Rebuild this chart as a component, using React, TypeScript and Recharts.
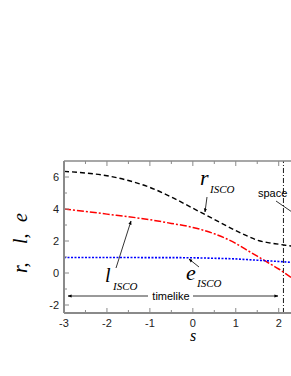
import React from 'react';
import { LineChart, Line, XAxis, YAxis, ReferenceLine, Customized } from 'recharts';

const sValues = [-3, -2.5, -2, -1.5, -1, -0.5, 0, 0.5, 1, 1.25, 1.5, 1.75, 2, 2.3];
const rIsco = [6.35, 6.25, 6.08, 5.78, 5.35, 4.75, 4.05, 3.35, 2.65, 2.33, 2.05, 1.9, 1.8, 1.68];
const lIsco = [4.0, 3.85, 3.68, 3.52, 3.33, 3.1, 2.85, 2.45, 1.85, 1.45, 1.05, 0.65, 0.25, -0.3];
const eIsco = [0.97, 0.97, 0.97, 0.97, 0.96, 0.96, 0.95, 0.92, 0.88, 0.84, 0.8, 0.76, 0.72, 0.66];
const xTicks = [-3, -2.5, -2, -1.5, -1, -0.5, 0, 0.5, 1, 1.5, 2];
const yTicks = [-2, -1, 0, 1, 2, 3, 4, 5, 6];
const xLabelTicks = [-3, -2, -1, 0, 1, 2];
const yLabelTicks = [-2, 0, 2, 4, 6];
const horizonS = 2.11;

const data = sValues.map((s, i) => ({ s, r: rIsco[i], l: lIsco[i], e: eIsco[i] }));

const AXIS = '#8a8a8a';
const SANS = '"Liberation Sans", Arial, sans-serif';
const SERIF = '"Liberation Serif", "Times New Roman", serif';

const XTick = (props: any) => {
  const { x, y, payload } = props;
  const v = payload.value;
  const major = xLabelTicks.includes(v);
  return (
    <g>
      <line x1={x} y1={y} x2={x} y2={y - (major ? 5 : 3)} stroke={AXIS} strokeWidth={1} />
      {major && (
        <text x={x} y={y + 13.5} textAnchor="middle" fontFamily={SANS} fontSize={11} fill="#222">
          {v}
        </text>
      )}
    </g>
  );
};

const TopTick = (props: any) => {
  const { x, y, payload } = props;
  const major = xLabelTicks.includes(payload.value);
  return <line x1={x} y1={y} x2={x} y2={y + (major ? 5 : 3)} stroke={AXIS} strokeWidth={1} />;
};

const YTick = (props: any) => {
  const { x, y, payload } = props;
  const v = payload.value;
  const major = yLabelTicks.includes(v);
  return (
    <g>
      <line x1={x} y1={y} x2={x + (major ? 5 : 3)} y2={y} stroke={AXIS} strokeWidth={1} />
      {major && (
        <text x={x - 5} y={y + 4} textAnchor="end" fontFamily={SANS} fontSize={11} fill="#222">
          {v}
        </text>
      )}
    </g>
  );
};

const Annotations = () => (
  <g>
    <defs>
      <marker id="ah" viewBox="0 0 10 10" refX="9" refY="5" markerWidth="5" markerHeight="5" orient="auto-start-reverse">
        <path d="M0,1 L10,5 L0,9 z" fill="#000" />
      </marker>
    </defs>
    {/* y axis title */}
    <text transform="translate(27,273) rotate(-90)" fontFamily={SERIF} fontStyle="italic" fontSize={20} fill="#000">r,</text>
    <text transform="translate(27,244) rotate(-90)" fontFamily={SERIF} fontStyle="italic" fontSize={20} fill="#000">l,</text>
    <text transform="translate(27,222) rotate(-90)" fontFamily={SERIF} fontStyle="italic" fontSize={20} fill="#000">e</text>
    {/* x axis title */}
    <text x={193} y={341} textAnchor="middle" fontFamily={SERIF} fontStyle="italic" fontSize={16} fill="#000">s</text>

    {/* r_ISCO */}
    <text x={200} y={185} fontFamily={SERIF} fontStyle="italic" fontSize={22} fill="#000">r</text>
    <text x={210} y={193} fontFamily={SERIF} fontStyle="italic" fontSize={11} fill="#000">ISCO</text>
    <line x1={207} y1={197} x2={205} y2={212} stroke="#000" strokeWidth={0.8} markerEnd="url(#ah)" />

    {/* l_ISCO */}
    <text x={105} y={282} fontFamily={SERIF} fontStyle="italic" fontSize={20} fill="#000">l</text>
    <text x={113} y={290} fontFamily={SERIF} fontStyle="italic" fontSize={11} fill="#000">ISCO</text>
    <line x1={116} y1={268} x2={131} y2={221} stroke="#000" strokeWidth={0.8} markerEnd="url(#ah)" />

    {/* e_ISCO */}
    <text x={186} y={280} fontFamily={SERIF} fontStyle="italic" fontSize={22} fill="#000">e</text>
    <text x={197} y={287} fontFamily={SERIF} fontStyle="italic" fontSize={11} fill="#000">ISCO</text>
    <line x1={199} y1={267} x2={189} y2={259} stroke="#000" strokeWidth={0.8} markerEnd="url(#ah)" />

    {/* spacelike (clipped by the frame, as in the reference) */}
    <text x={258} y={197} fontFamily={SANS} fontSize={11} fill="#000">space</text>
    <line x1={276} y1={201} x2={292} y2={212} stroke="#000" strokeWidth={0.8} />

    {/* timelike */}
    <line x1={148} y1={296} x2={68} y2={296} stroke="#000" strokeWidth={0.8} markerEnd="url(#ah)" />
    <text x={171} y={300} textAnchor="middle" fontFamily={SANS} fontSize={11} fill="#000">timelike</text>
    <line x1={193} y1={296} x2={278} y2={296} stroke="#000" strokeWidth={0.8} markerEnd="url(#ah)" />
  </g>
);

export default function App() {
  return (
    <div style={{ position: 'absolute', left: 0, top: 0, width: 291, height: 376, overflow: 'hidden', background: '#fff' }}>
      <LineChart
        width={300}
        height={376}
        data={data}
        margin={{ top: 160, right: 8.4, bottom: 62, left: 63 }}
      >
        <XAxis
          xAxisId="b"
          dataKey="s"
          type="number"
          domain={[-3, 2.3]}
          ticks={xTicks}
          interval={0}
          height={1}
          tickSize={0}
          tickMargin={0}
          tickLine={false}
          axisLine={{ stroke: AXIS, strokeWidth: 2 }}
          tick={<XTick />}
        />
        <XAxis
          xAxisId="t"
          orientation="top"
          dataKey="s"
          type="number"
          domain={[-3, 2.3]}
          ticks={xTicks}
          interval={0}
          height={1}
          tickSize={0}
          tickMargin={0}
          tickLine={false}
          axisLine={{ stroke: AXIS, strokeWidth: 1.5 }}
          tick={<TopTick />}
        />
        <YAxis
          type="number"
          domain={[-2.5, 7]}
          ticks={yTicks}
          interval={0}
          width={1}
          tickSize={0}
          tickMargin={0}
          tickLine={false}
          axisLine={{ stroke: AXIS, strokeWidth: 2 }}
          tick={<YTick />}
        />
        <ReferenceLine xAxisId="b" x={horizonS} stroke="#000" strokeWidth={0.9} strokeDasharray="5 2 1 2" />
        <Line xAxisId="b" type="monotone" dataKey="r" stroke="#000" strokeWidth={1.4} strokeDasharray="5 3" dot={false} isAnimationActive={false} />
        <Line xAxisId="b" type="monotone" dataKey="l" stroke="#ff0000" strokeWidth={1.5} strokeDasharray="7 2 2 2" dot={false} isAnimationActive={false} />
        <Line xAxisId="b" type="monotone" dataKey="e" stroke="#0000ff" strokeWidth={1.6} strokeDasharray="2 1.5" dot={false} isAnimationActive={false} />
        <Customized component={Annotations} />
      </LineChart>
    </div>
  );
}
